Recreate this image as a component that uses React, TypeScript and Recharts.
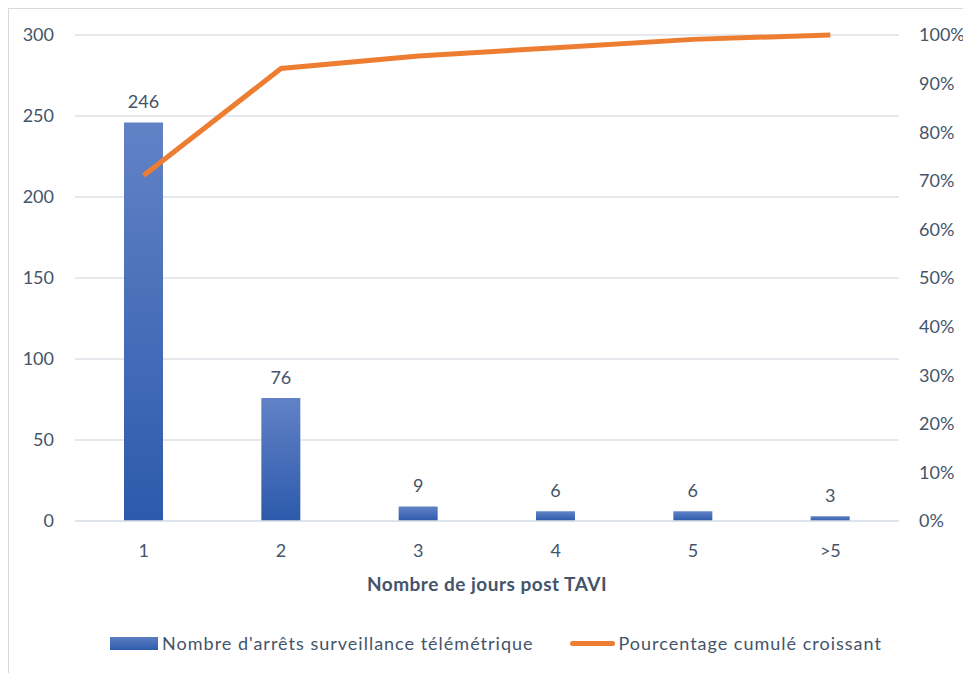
import React from 'react';
import {
  ComposedChart, Bar, Line, XAxis, YAxis, CartesianGrid, Legend, LabelList, ReferenceLine,
} from 'recharts';

const categories = ['1', '2', '3', '4', '5', '>5'];
const arrets = [246, 76, 9, 6, 6, 3];
const cumule = [0.711, 0.931, 0.957, 0.974, 0.991, 1.0];
const leftTicks = [0, 50, 100, 150, 200, 250, 300];
const rightTicks = [0, 0.1, 0.2, 0.3, 0.4, 0.5, 0.6, 0.7, 0.8, 0.9, 1.0];

const barName = "Nombre d'arrêts surveillance télémétrique";
const lineName = 'Pourcentage cumulé croissant';
const xTitle = 'Nombre de jours post TAVI';

const data = categories.map((c, i) => ({ cat: c, arrets: arrets[i], cumule: cumule[i] }));

const TEXT = '#44546a';
const FONT = 'Lato, "Open Sans", sans-serif';
const ORANGE = '#ed7d31';
const GRID = '#dde2e8';
const FS = 18;

const LegendContent = () => (
  <div
    style={{
      height: 60,
      display: 'flex',
      justifyContent: 'center',
      alignItems: 'center',
      paddingTop: 24,
      boxSizing: 'border-box',
      fontFamily: FONT,
      fontSize: 18,
      letterSpacing: '1px',
      color: TEXT,
    }}
  >
    <div style={{ display: 'flex', alignItems: 'center', marginRight: 36, marginLeft: 12 }}>
      <div
        style={{
          width: 48,
          height: 13,
          background: 'linear-gradient(#5d7cc2, #2f5cae)',
          marginRight: 4,
        }}
      />
      <span>{barName}</span>
    </div>
    <div style={{ display: 'flex', alignItems: 'center' }}>
      <div style={{ width: 45, height: 5, borderRadius: 3, background: ORANGE, marginRight: 4 }} />
      <span>{lineName}</span>
    </div>
  </div>
);

export default function App() {
  return (
    <div
      style={{
        width: 962,
        height: 664,
        borderTop: '1px solid #d9d9d9',
        borderLeft: '1px solid #d9d9d9',
        background: '#fff',
        fontFamily: FONT,
      }}
    >
      <ComposedChart
        width={962}
        height={664}
        data={data}
        margin={{ top: 26, right: 0, bottom: 12, left: 0 }}
      >
        <defs>
          <linearGradient id="barGrad" x1="0" y1="0" x2="0" y2="1">
            <stop offset="0%" stopColor="#6282c6" />
            <stop offset="100%" stopColor="#2d5aac" />
          </linearGradient>
        </defs>
        <CartesianGrid yAxisId="left" vertical={false} stroke={GRID} strokeWidth={1.5} />
        <XAxis
          dataKey="cat"
          axisLine={false}
          tickLine={false}
          tickSize={0}
          tickMargin={23}
          height={80}
          tick={{ fill: TEXT, fontSize: FS, fontFamily: FONT }}
          label={{
            value: xTitle,
            position: 'insideBottom',
            offset: 10,
            fill: TEXT,
            fontSize: 19,
            fontWeight: 700,
            fontFamily: FONT,
            letterSpacing: '0.5px',
          }}
        />
        <YAxis
          yAxisId="left"
          domain={[0, 300]}
          ticks={leftTicks}
          width={66}
          axisLine={false}
          tickLine={false}
          tickSize={0}
          tickMargin={21}
          tick={{ fill: TEXT, fontSize: FS, fontFamily: FONT }}
        />
        <YAxis
          yAxisId="right"
          orientation="right"
          domain={[0, 1]}
          ticks={rightTicks}
          width={72}
          axisLine={false}
          tickLine={false}
          tickSize={0}
          tickMargin={20}
          tickFormatter={(v: number) => `${Math.round(v * 100)}%`}
          tick={{ fill: TEXT, fontSize: FS, fontFamily: FONT }}
        />
        <Bar
          yAxisId="left"
          dataKey="arrets"
          name={barName}
          fill="url(#barGrad)"
          barSize={39}
          isAnimationActive={false}
        >
          <LabelList
            dataKey="arrets"
            position="top"
            offset={14}
            fill={TEXT}
            fontSize={FS}
            fontFamily={FONT}
          />
        </Bar>
        <ReferenceLine yAxisId="left" y={0} stroke={GRID} strokeWidth={1.5} />
        <Line
          yAxisId="right"
          dataKey="cumule"
          name={lineName}
          stroke={ORANGE}
          strokeWidth={5}
          dot={false}
          activeDot={false}
          isAnimationActive={false}
        />
        <Legend verticalAlign="bottom" content={<LegendContent />} />
      </ComposedChart>
    </div>
  );
}
